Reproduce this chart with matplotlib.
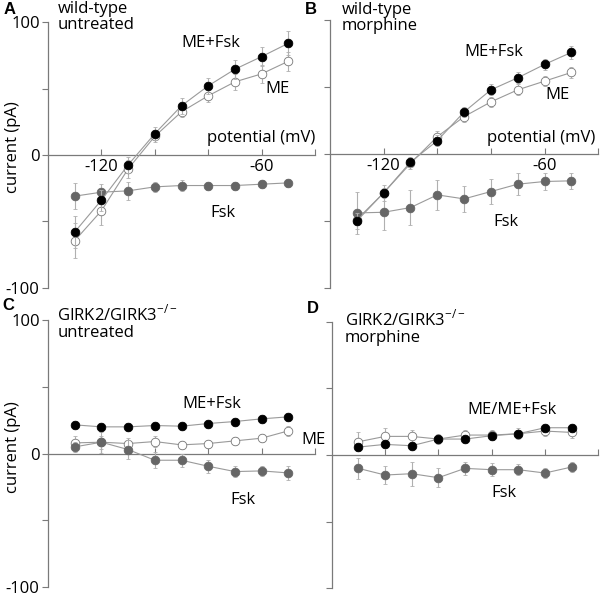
import matplotlib
matplotlib.use("Agg")
import matplotlib.pyplot as plt
import numpy as np

plt.rcParams['font.family'] = ['Open Sans', 'DejaVu Sans']

potential = [-130, -120, -110, -100, -90, -80, -70, -60, -50]

# Panel A: wild-type untreated
A_mefsk = [-58, -34, -7.5, 16, 37, 52, 64.5, 74, 84]
A_mefsk_err = [12, 8, 6, 5, 6, 6, 7, 7, 9]
A_me = [-64.5, -42, -10.5, 14, 32.5, 44.5, 55, 61, 70.5]
A_me_err = [13, 11, 7, 4, 4, 5, 6, 7, 7]
A_fsk = [-31, -28, -27, -24, -23, -23, -23, -22, -21]
A_fsk_err = [10, 6, 7, 4, 4, 3, 3, 3, 3]

# Panel B: wild-type morphine
B_mefsk = [-50, -29, -6, 10, 31.5, 48, 57, 67, 76]
B_mefsk_err = [6, 6, 4, 4, 4, 4, 4, 4, 5]
B_me = [-49, -29, -7, 13, 28, 39, 48, 54.5, 61]
B_me_err = [4, 4, 4, 4, 4, 4, 4, 4, 4]
B_fsk = [-44, -43.5, -40, -30.5, -33.5, -28, -22.5, -20.5, -20]
B_fsk_err = [16, 13, 13, 11, 10, 9, 8, 6, 6]

# Panel C: GIRK2/GIRK3-/- untreated
C_mefsk = [21.5, 20, 20, 21, 20.5, 22.5, 24, 26, 27.5]
C_mefsk_err = [3, 3, 3, 3, 3, 3, 3, 3, 3]
C_me = [8, 8.5, 7.5, 9, 6.5, 7.5, 9.5, 11.5, 17]
C_me_err = [5, 5, 4, 4, 3, 3, 3, 3, 4]
C_fsk = [5, 8.5, 3, -5, -5, -9.5, -13.5, -13, -14.5]
C_fsk_err = [4, 8, 7, 6, 5, 5, 4, 4, 5]

# Panel D: GIRK2/GIRK3-/- morphine
D_mefsk = [6, 8, 7, 12, 12, 14.5, 16, 20.5, 20.5]
D_mefsk_err = [3, 3, 3, 3, 3, 3, 3, 3, 3]
D_me = [10, 14, 14, 12, 15, 15, 16, 18, 17]
D_me_err = [7, 6, 5, 4, 4, 4, 4, 4, 4]
D_fsk = [-10, -15, -14, -17, -10, -11, -11, -13.5, -9]
D_fsk_err = [8, 7, 9, 7, 5, 5, 4, 4, 4]

fig = plt.figure(figsize=(6.0, 5.96), dpi=100)

positions = {
    'A': [0.080, 0.517, 0.445, 0.446],
    'B': [0.550, 0.517, 0.447, 0.449],
    'C': [0.080, 0.015, 0.445, 0.448],
    'D': [0.553, 0.013, 0.444, 0.447],
}

spine_col = '#7a7a7a'
line_col = '#9a9a9a'
err_col = '#b0b0b0'
gray_fill = '#666666'
fs = 12


def draw(ax, mefsk, mefsk_err, me, me_err, fsk, fsk_err):
    common = dict(color=line_col, lw=0.8, ecolor=err_col, elinewidth=0.8,
                  capsize=1.5, capthick=0.8, markersize=6.2,
                  markeredgewidth=0.6)
    ax.errorbar(potential, me, yerr=me_err, fmt='-o', markerfacecolor='white',
                markeredgecolor='#777777', zorder=3, **common)
    ax.errorbar(potential, fsk, yerr=fsk_err, fmt='-o',
                markerfacecolor=gray_fill, markeredgecolor=gray_fill,
                zorder=4, **common)
    ax.errorbar(potential, mefsk, yerr=mefsk_err, fmt='-o',
                markerfacecolor='black', markeredgecolor='black', zorder=5,
                **common)


def style(ax, ylabels, xlabels):
    ax.set_xlim(-140, -40)
    ax.set_ylim(-100, 100)
    for s in ['top', 'right']:
        ax.spines[s].set_visible(False)
    ax.spines['bottom'].set_position(('data', 0))
    for s in ['left', 'bottom']:
        ax.spines[s].set_color(spine_col)
        ax.spines[s].set_linewidth(0.9)
    ax.set_yticks([-100, -50, 0, 50, 100])
    ax.set_yticklabels(['-100', '', '0', '', '100'] if ylabels else [''] * 5)
    ax.set_xticks([-120, -100, -80, -60, -40])
    ax.set_xticklabels(['-120', '', '', '-60', ''] if xlabels else [''] * 5)
    ax.tick_params(axis='y', direction='out', length=4, color=spine_col,
                   labelsize=fs, pad=2)
    ax.tick_params(axis='x', direction='in', length=4, color=spine_col,
                   labelsize=fs, pad=3)
    ax.patch.set_visible(False)


axA = fig.add_axes(positions['A'])
draw(axA, A_mefsk, A_mefsk_err, A_me, A_me_err, A_fsk, A_fsk_err)
style(axA, True, True)
axA.text(-79, 84, 'ME+Fsk', ha='center', va='center', fontsize=fs)
axA.text(-54, 50, 'ME', ha='center', va='center', fontsize=fs)
axA.text(-40, 13, 'potential (mV)', ha='right', va='center', fontsize=fs)
axA.text(-74.5, -43.5, 'Fsk', ha='center', va='center', fontsize=fs)
axA.text(-136.5, 116, 'wild-type\nuntreated', ha='left', va='top',
         fontsize=fs, linespacing=1.0, clip_on=False)

axB = fig.add_axes(positions['B'])
draw(axB, B_mefsk, B_mefsk_err, B_me, B_me_err, B_fsk, B_fsk_err)
style(axB, False, True)
axB.text(-79, 76, 'ME+Fsk', ha='center', va='center', fontsize=fs)
axB.text(-55, 44, 'ME', ha='center', va='center', fontsize=fs)
axB.text(-41, 12, 'potential (mV)', ha='right', va='center', fontsize=fs)
axB.text(-74.5, -50.5, 'Fsk', ha='center', va='center', fontsize=fs)
axB.text(-135.5, 114, 'wild-type\nmorphine', ha='left', va='top',
         fontsize=fs, linespacing=1.0, clip_on=False)

axC = fig.add_axes(positions['C'])
draw(axC, C_mefsk, C_mefsk_err, C_me, C_me_err, C_fsk, C_fsk_err)
style(axC, True, False)
axC.text(-78.5, 37, 'ME+Fsk', ha='center', va='center', fontsize=fs)
axC.text(-45, 10.5, 'ME', ha='left', va='center', fontsize=fs,
         clip_on=False)
axC.text(-67, -34.5, 'Fsk', ha='center', va='center', fontsize=fs)
axC.text(-136.5, 112, 'GIRK2/GIRK3$^{\\mathregular{-/-}}$\nuntreated',
         ha='left', va='top', fontsize=fs, linespacing=1.05, clip_on=False)

axD = fig.add_axes(positions['D'])
draw(axD, D_mefsk, D_mefsk_err, D_me, D_me_err, D_fsk, D_fsk_err)
style(axD, False, False)
axD.text(-72.5, 34, 'ME/ME+Fsk', ha='center', va='center', fontsize=fs)
axD.text(-75.5, -28.5, 'Fsk', ha='center', va='center', fontsize=fs)
axD.text(-135, 110, 'GIRK2/GIRK3$^{\\mathregular{-/-}}$\nmorphine',
         ha='left', va='top', fontsize=fs, linespacing=1.05, clip_on=False)

# y axis labels
fig.text(0.022, 1 - 147 / 596, 'current (pA)', rotation=90, ha='center',
         va='center', fontsize=fs)
fig.text(0.022, 1 - 447 / 596, 'current (pA)', rotation=90, ha='center',
         va='center', fontsize=fs)

# panel letters
for lab, x, y in [('A', 4, 10), ('B', 305, 10), ('C', 2, 306), ('D', 307, 309)]:
    fig.text(x / 600, 1 - y / 596, lab, ha='left', va='center',
             fontsize=12, fontweight='bold', family=['Liberation Sans'])

fig.savefig('out.png', dpi=100)
